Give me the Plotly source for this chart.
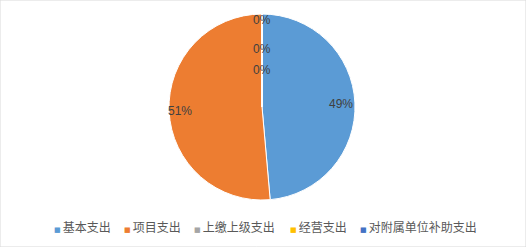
import math
import plotly.graph_objects as go

categories = ["基本支出", "项目支出", "上缴上级支出", "经营支出", "对附属单位补助支出"]
values = [48.6, 51.4, 0, 0, 0]
colors = ["#5B9BD5", "#ED7D31", "#A5A5A5", "#FFC000", "#4472C4"]

# layout settings (pixels)
W, H = 526, 247
CX, CY, R = 262, 107, 93
label_radius = [0.85, 0.88, 0.40, 0.62, 0.94]   # radial placement of each data label
legend_x = [52, 122, 192, 288, 358]              # left edge of each legend entry
legend_y = 226

fig = go.Figure(go.Pie(
    labels=categories,
    values=values,
    sort=False,
    direction="clockwise",
    rotation=0,
    marker=dict(colors=colors, line=dict(color="white", width=1)),
    textinfo="none",
    hoverinfo="label+percent",
    domain=dict(x=[(CX - R) / W - 0.05, (CX + R) / W + 0.05],
                y=[1 - (CY + R) / H, 1 - (CY - R) / H]),
    showlegend=False,
))

annotations = []
total = sum(values)
cum = 0.0
for name, v, fr in zip(categories, values, label_radius):
    mid = (cum + v / 2) / total * 2 * math.pi
    cum += v
    px = CX + R * fr * math.sin(mid)
    py = CY - R * fr * math.cos(mid)
    annotations.append(dict(
        x=px / W, y=1 - py / H, xref="paper", yref="paper",
        text=f"{round(v / total * 100)}%", showarrow=False,
        xanchor="center", yanchor="middle",
        font=dict(family="Liberation Sans, Arial", size=12, color="#404040"),
    ))

for name, c, lx in zip(categories, colors, legend_x):
    annotations.append(dict(
        x=lx / W, y=1 - legend_y / H, xref="paper", yref="paper",
        text=f'<span style="color:{c};font-size:7px;font-family:DejaVu Sans">■ </span>{name}',
        showarrow=False, xanchor="left", yanchor="middle",
        font=dict(family="Noto Sans CJK SC", size=12, color="#595959"),
    ))

fig.update_layout(
    width=W, height=H,
    margin=dict(l=0, r=0, t=0, b=0),
    paper_bgcolor="white",
    showlegend=False,
    annotations=annotations,
    shapes=[dict(type="rect", xref="paper", yref="paper", x0=0, x1=1, y0=0, y1=1,
                 line=dict(color="#D9D9D9", width=1))],
)
fig.write_html("out.html")
